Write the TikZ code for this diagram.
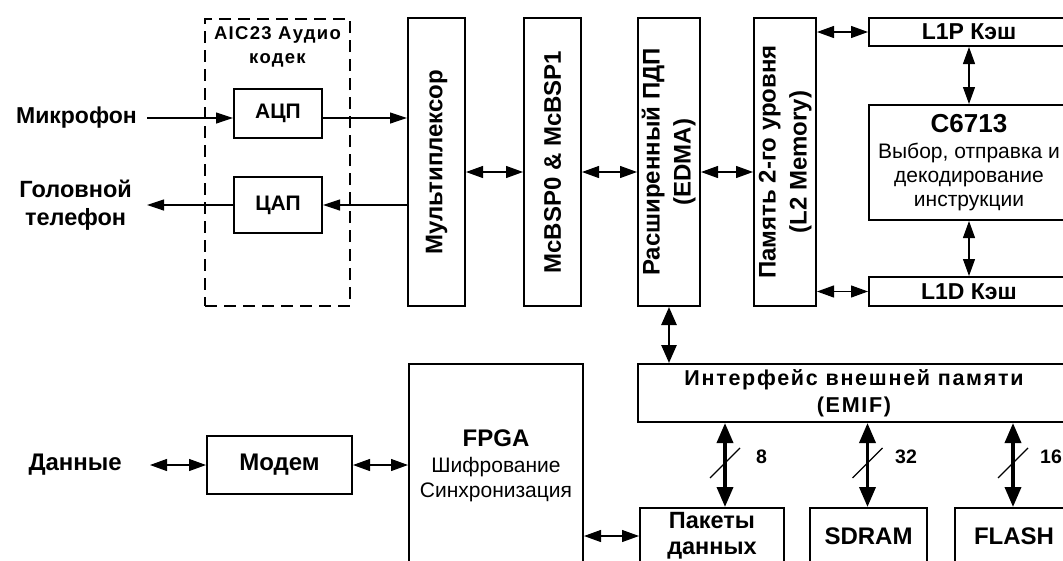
\documentclass[tikz,border=0pt]{standalone}
\usepackage{fontspec}
\setmainfont{Liberation Sans}
\newfontfamily\spacedsans[LetterSpace=7]{Liberation Sans}
\newfontfamily\widesans[LetterSpace=8]{Liberation Sans}
\usetikzlibrary{arrows.meta}
% font helpers: size and baseline skip in pt
\newcommand\fb[2]{\fontsize{#1}{#2}\selectfont\bfseries}
\newcommand\fr[2]{\fontsize{#1}{#2}\selectfont\mdseries}
\newcommand\fsp[2]{\spacedsans\fontsize{#1}{#2}\selectfont\bfseries}
\newcommand\fwd[2]{\widesans\fontsize{#1}{#2}\selectfont\bfseries}
\begin{document}
\begin{tikzpicture}[x=1pt,y=-1pt,
  box/.style={draw, line width=2pt, inner sep=0pt, align=center, anchor=north west},
  codecbox/.style={draw, line width=2pt, dash pattern=on 12pt off 7pt, inner sep=0pt, anchor=north west},
  plain/.style={inner sep=0pt, align=center},
  sarrow/.style={line width=1.2pt, -{Triangle[length=17pt,width=11pt]}},
  darrow/.style={line width=1.2pt, {Triangle[length=17pt,width=12pt]}-{Triangle[length=17pt,width=12pt]}},
  marrow/.style={line width=2.6pt, {Triangle[length=18pt,width=15pt]}-{Triangle[length=18pt,width=15pt]}},
  busarrow/.style={line width=3.6pt, {Triangle[length=20pt,width=16pt]}-{Triangle[length=20pt,width=16pt]}},
  slash/.style={line width=1.1pt}]
\useasboundingbox (0,0) rectangle (1063,560);
\fill[white] (0,0) rectangle (1063,560);
\clip (0,0) rectangle (1063,560);

% ---- audio codec ----
\node[codecbox, minimum width=145pt, minimum height=287pt,
  label={[anchor=north, align=center, inner sep=0pt, yshift=-8pt, font={\fsp{18.5}{24}}]north:AIC23 Аудио\\кодек}]
  (codec) at (204,18) {};
\node[box, minimum width=88pt, minimum height=49pt, font={\fb{21}{24}}] (adc) at (233,88) {АЦП};
\node[box, minimum width=88pt, minimum height=56pt, font={\fb{21}{24}}] (dac) at (233,176) {ЦАП};

\node[plain, anchor=east, inner xsep=10pt, font={\fb{23}{26}}] (mic) at (147,118) {Микрофон};
\node[plain, anchor=east, inner xsep=15pt, font={\fb{23.5}{28}}] (phone) at (147,205) {Головной\\телефон};

% ---- processing column ----
\node[box, minimum width=57pt, minimum height=288pt, font={\fb{24}{31}}] (mux) at (407,17)
  {\rotatebox{90}{Мультиплексор}};
\node[box, minimum width=57pt, minimum height=288pt, font={\fb{24}{31}}] (mcbsp) at (523,17)
  {\rotatebox{90}{McBSP0 \& McBSP1}};
\node[box, minimum width=58pt, minimum height=288pt, font={\fb{24}{31}}] (edma) at (637,17)
  {\rotatebox{90}{\begin{tabular}{@{}c@{}}Расширенный ПДП\\(EDMA)\end{tabular}}};
\node[box, minimum width=59pt, minimum height=288pt, font={\fb{24}{31}}] (ltwo) at (753,17)
  {\rotatebox{90}{\begin{tabular}{@{}c@{}}Память 2-го уровня\\(L2 Memory)\end{tabular}}};

% ---- core and caches ----
\node[box, minimum width=200pt, minimum height=28pt, font={\fb{23}{26}}] (lonep) at (868,17) {L1P Кэш};
\node[box, minimum width=200pt, minimum height=115pt, font={\fr{21}{24}}] (cpu) at (868,104)
  {\fb{26}{30}C6713\\[2pt]\fr{21}{24}Выбор, отправка и\\декодирование\\инструкции};
\node[box, minimum width=200pt, minimum height=29pt, font={\fb{23}{26}}] (loned) at (868,276) {L1D Кэш};

% ---- external memory ----
\node[box, minimum width=432pt, minimum height=58pt, font={\fwd{21.5}{27}}] (emif) at (637,363)
  {Интерфейс внешней памяти\\(EMIF)};
\node[box, minimum width=144pt, minimum height=56pt, font={\fb{23.5}{26}}] (pkt) at (639,507) {Пакеты\\данных};
\node[box, minimum width=117pt, minimum height=56pt, font={\fb{24}{26}}] (sdram) at (809,507) {SDRAM};
\node[box, minimum width=118pt, minimum height=56pt, font={\fb{24}{26}}] (flash) at (954,507) {FLASH};

% ---- data path ----
\node[box, minimum width=174pt, minimum height=204pt, font={\fr{21}{25}}] (fpga) at (408,363)
  {\fb{24}{28}FPGA\\[1pt]\fr{21}{25}Шифрование\\Синхронизация};
\node[box, minimum width=145pt, minimum height=58pt, font={\fb{24}{26}}] (modem) at (206,435) {Модем};
\node[plain, anchor=east, inner xsep=28pt, font={\fb{24}{26}}] (data) at (150,465) {Данные};

% ---- bus width labels ----
\coordinate (busrow) at (0,172);
\coordinate (beight) at (725,463);
\coordinate (bthirtytwo) at (867.5,463);
\coordinate (bsixteen) at (1013,463);
\node[plain, anchor=west, font={\fb{19.5}{22}}] (weight) at (756,457) {8};
\node[plain, anchor=west, font={\fb{19.5}{22}}] (wthirtytwo) at (895,457) {32};
\node[plain, anchor=west, font={\fb{19.5}{22}}] (wsixteen) at (1040,457) {16};

% ---- connectors ----
\draw[sarrow] (mic.east) -- (mic.east -| adc.west);
\draw[sarrow] (adc.east |- mic) -- (mux.west |- mic);
\draw[sarrow] (mux.west |- phone) -- (dac.east |- phone);
\draw[sarrow] (dac.west |- phone) -- (phone.east);

\draw[darrow] (mux.east |- busrow) -- (mcbsp.west |- busrow);
\draw[darrow] (mcbsp.east |- busrow) -- (edma.west |- busrow);
\draw[darrow] (edma.east |- busrow) -- (ltwo.west |- busrow);

\draw[darrow] (ltwo.east |- lonep) -- (lonep.west);
\draw[darrow] (ltwo.east |- loned) -- (loned.west);
\draw[darrow] (lonep.south) -- (cpu.north);
\draw[darrow] (cpu.south) -- (loned.north);

\draw[marrow] (edma.south) -- (edma.south |- emif.north);

\draw[busarrow] (emif.south -| beight) -- (pkt.north -| beight);
\draw[busarrow] (emif.south -| bthirtytwo) -- (sdram.north -| bthirtytwo);
\draw[busarrow] (emif.south -| bsixteen) -- (flash.north -| bsixteen);
\draw[slash] ([shift={(-15,15)}]beight) -- ([shift={(15,-15)}]beight);
\draw[slash] ([shift={(-15,15)}]bthirtytwo) -- ([shift={(15,-15)}]bthirtytwo);
\draw[slash] ([shift={(-15,15)}]bsixteen) -- ([shift={(15,-15)}]bsixteen);

\draw[darrow] (data.east) -- (data.east -| modem.west);
\draw[darrow] (modem.east) -- (modem.east -| fpga.west);
\draw[darrow] (fpga.east |- pkt) -- (pkt.west);
\end{tikzpicture}
\end{document}
